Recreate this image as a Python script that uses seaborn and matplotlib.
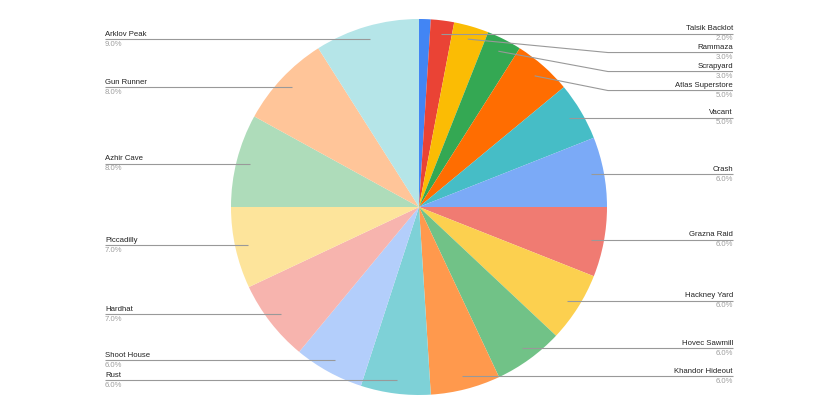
import numpy as np
import matplotlib.pyplot as plt
import seaborn as sns

# slice names in clockwise order from 12 o'clock (first slice has no label)
maps = ["", "Talsik Backlot", "Rammaza", "Scrapyard", "Atlas Superstore", "Vacant",
        "Crash", "Grazna Raid", "Hackney Yard", "Hovec Sawmill", "Khandor Hideout",
        "Rust", "Shoot House", "Hardhat", "Piccadilly", "Azhir Cave", "Gun Runner",
        "Arklov Peak"]
shares = [1, 2, 3, 3, 5, 5, 6, 6, 6, 6, 6, 6, 6, 7, 7, 8, 8, 9]
colors = ["#4285F4", "#EA4335", "#FBBC04", "#34A853", "#FF6D01", "#46BDC6",
          "#7BAAF7", "#F07B72", "#FCD04F", "#71C287", "#FF994D", "#7ED1D7",
          "#B3CEFB", "#F7B4AE", "#FDE49B", "#AEDCBA", "#FFC599", "#B5E5E8"]

sns.set_theme(style="white")
plt.rcParams['font.family'] = ['Liberation Sans', 'DejaVu Sans']

W, H = 825, 413
fig = plt.figure(figsize=(W / 100, H / 100), dpi=100)
cx, cy, R = 419, 207, 188
ax = fig.add_axes([(cx - R) / W, (H - cy - R) / H, 2 * R / W, 2 * R / H])
wedges, _ = ax.pie(shares, colors=colors, startangle=90, counterclock=False,
                   wedgeprops=dict(linewidth=0))
ax.set_xlim(-1, 1)
ax.set_ylim(-1, 1)
ax.set_aspect("equal")
ax.axis("off")

total = sum(shares)
gap = 19 / R
label_x = 1.67
elbow_x = 1.005
right, left = [], []
for w, name, v in zip(wedges, maps, shares):
    if not name:
        continue
    ang = np.deg2rad((w.theta1 + w.theta2) / 2)
    px, py = 0.93 * np.cos(ang), 0.93 * np.sin(ang)
    (right if px > 0 else left).append([py, px, name, v])

for side, items in ((1, right), (-1, left)):
    items.sort(key=lambda t: -t[0])
    prev = None
    for it in items:
        y = it[0] if prev is None else min(it[0], prev - gap)
        prev = y
        py, px, name, v = it
        ex = side * elbow_x
        if side * px > elbow_x:
            ex = px
        ax.plot([px, ex, side * label_x], [py, y, y], color="#999999", lw=0.8,
                clip_on=False, solid_capstyle="butt")
        ha = "right" if side > 0 else "left"
        ax.text(side * label_x, y + 1.5 / R, name, ha=ha, va="bottom", fontsize=5.6,
                color="#222222")
        ax.text(side * label_x, y - 1.5 / R, f"{v / total * 100:.1f}%", ha=ha, va="top",
                fontsize=5.6, color="#9e9e9e")

fig.savefig("out.png", dpi=100)
